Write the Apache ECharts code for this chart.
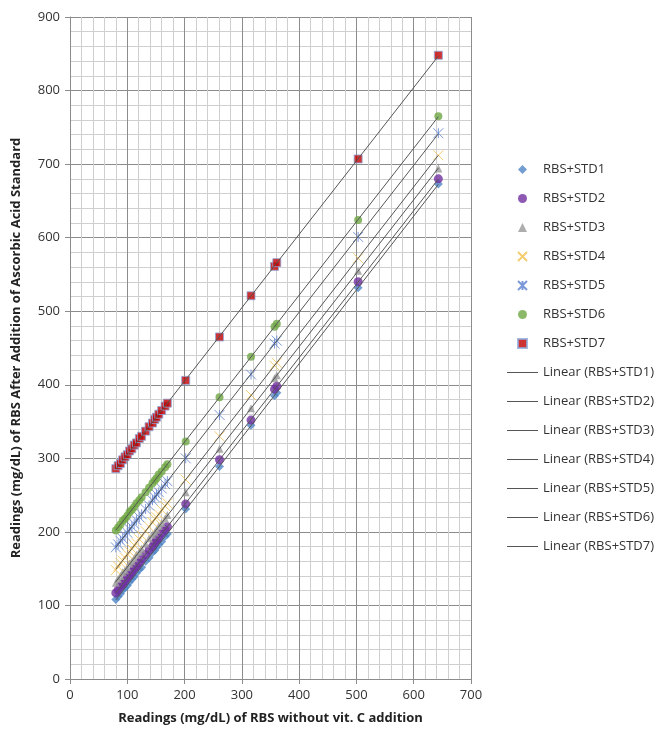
<!DOCTYPE html>
<html lang="en">
<head>
    <meta charset="UTF-8">
    <title>RBS vs RBS + Ascorbic Acid</title>
    <script src="https://cdn.jsdelivr.net/npm/echarts@6/dist/echarts.min.js"></script>
</head>
<style>
    html, body{
        margin: 0;
        padding: 0;
        background-color: #fff;
    }
    #main{
        width: 656px;
        height: 730px;
    }
</style>
<body>
<div id="main"></div>
<script>
    // readings without vit. C (x), same samples for every standard
    var rbs  = [80, 84, 88, 92, 96, 100, 104, 108, 112, 116, 121, 125, 132, 138, 144, 148, 151, 155, 160, 166, 170, 202, 261, 316, 357, 361, 503, 643];
    var std1 = [108, 112, 116, 121, 124, 127, 132, 136, 139, 144, 149, 152, 160, 165, 172, 175, 179, 183, 187, 194, 197, 231, 289, 345, 385, 389, 532, 673];
    var std2 = [117, 121, 126, 129, 133, 138, 141, 145, 150, 153, 158, 163, 169, 175, 180, 185, 189, 192, 198, 203, 207, 238, 298, 352, 394, 398, 540, 680];
    var std3 = [131, 136, 140, 145, 148, 152, 157, 160, 164, 169, 173, 177, 184, 191, 196, 199, 203, 208, 212, 218, 223, 254, 313, 368, 409, 413, 555, 694];
    var std4 = [148, 153, 158, 161, 165, 170, 173, 177, 182, 185, 190, 195, 201, 207, 213, 218, 220, 224, 230, 235, 239, 271, 330, 386, 426, 430, 572, 712];
    var std5 = [179, 183, 188, 191, 195, 199, 204, 207, 211, 216, 220, 224, 231, 236, 243, 247, 251, 254, 259, 265, 269, 300, 359, 414, 456, 460, 601, 742];
    var std6 = [202, 206, 210, 215, 218, 222, 227, 230, 234, 239, 243, 247, 254, 260, 266, 270, 273, 278, 282, 288, 292, 323, 383, 438, 479, 483, 624, 765];
    var std7 = [286, 290, 293, 298, 302, 305, 310, 313, 318, 321, 327, 330, 337, 343, 348, 353, 356, 360, 365, 371, 375, 406, 465, 521, 561, 566, 707, 848];
    var xTicks = [0, 100, 200, 300, 400, 500, 600, 700];
    var yTicks = [0, 100, 200, 300, 400, 500, 600, 700, 800, 900];

    var names = ['RBS+STD1', 'RBS+STD2', 'RBS+STD3', 'RBS+STD4', 'RBS+STD5', 'RBS+STD6', 'RBS+STD7'];
    var values = [std1, std2, std3, std4, std5, std6, std7];

    var markers = [
        {symbol: 'diamond', size: 9, style: {color: '#4f86c6'}},
        {symbol: 'circle', size: 9, style: {color: '#7030a0'}},
        {symbol: 'triangle', size: 8, style: {color: '#989898'}},
        {symbol: 'path://M0,0L10,10M10,0L0,10', size: 10, style: {color: 'rgba(0,0,0,0)', borderColor: '#f2c14e', borderWidth: 1}},
        {symbol: 'path://M0,0L10,10M10,0L0,10M5,0L5,10', size: 10, style: {color: 'rgba(0,0,0,0)', borderColor: '#5b7fd0', borderWidth: 1}},
        {symbol: 'circle', size: 8, style: {color: '#6fa843'}},
        {symbol: 'rect', size: 8, style: {color: '#c00000', borderColor: '#8ea9db', borderWidth: 1}}
    ];

    // least squares fit, like the excel "Linear" trendline
    function linearFit(xs, ys) {
        var n = xs.length, sx = 0, sy = 0, sxx = 0, sxy = 0;
        for (var i = 0; i < n; i++) {
            sx += xs[i]; sy += ys[i];
            sxx += xs[i] * xs[i]; sxy += xs[i] * ys[i];
        }
        var b = (n * sxy - sx * sy) / (n * sxx - sx * sx);
        var a = (sy - b * sx) / n;
        var x0 = Math.min.apply(null, xs), x1 = Math.max.apply(null, xs);
        return [[x0, a + b * x0], [x1, a + b * x1]];
    }

    var series = [];
    var trendNames = [];
    for (var i = 0; i < names.length; i++) {
        var pts = [];
        for (var j = 0; j < rbs.length; j++) {
            pts.push([rbs[j], values[i][j]]);
        }
        series.push({
            name: names[i],
            type: 'scatter',
            symbol: markers[i].symbol,
            symbolSize: markers[i].size,
            itemStyle: markers[i].style,
            data: pts,
            z: 2
        });
    }
    for (var i = 0; i < names.length; i++) {
        trendNames.push('Linear (' + names[i] + ')');
        series.push({
            name: trendNames[i],
            type: 'line',
            symbol: 'none',
            lineStyle: {color: '#555', width: 1},
            itemStyle: {color: '#555'},
            data: linearFit(rbs, values[i]),
            z: 3
        });
    }

    var legendText = {fontSize: 13, color: '#333', fontFamily: 'Open Sans'};

    var app = echarts.init(document.getElementById('main'));
    var option = {
        animation: false,
        grid: {left: 70, right: 185, top: 17, bottom: 51},
        legend: [{
            data: names.map(function (n, k) { return {name: n, icon: markers[k].symbol}; }),
            orient: 'vertical',
            left: 512,
            top: 158,
            itemWidth: 9,
            itemHeight: 9,
            itemGap: 16,
            textStyle: {fontSize: 13, color: '#333', fontFamily: 'Open Sans', padding: [0, 0, 0, 11]}
        }, {
            data: trendNames.map(function (n) { return {name: n, icon: 'rect'}; }),
            orient: 'vertical',
            left: 502,
            top: 361,
            itemWidth: 31,
            itemHeight: 1,
            itemGap: 16,
            textStyle: legendText
        }],
        xAxis: {
            type: 'value',
            min: xTicks[0],
            max: xTicks[xTicks.length - 1],
            interval: 100,
            name: 'Readings (mg/dL) of RBS without vit. C addition',
            nameLocation: 'middle',
            nameGap: 33,
            nameTextStyle: {fontSize: 13, fontWeight: 'bold', color: '#222', fontFamily: 'Open Sans'},
            axisLine: {lineStyle: {color: '#8c8c8c'}},
            axisTick: {show: true, length: 5, lineStyle: {color: '#8c8c8c'}},
            axisLabel: {fontSize: 13, color: '#333', margin: 10, fontFamily: 'Open Sans'},
            splitLine: {lineStyle: {color: '#8c8c8c'}},
            minorTick: {show: false, splitNumber: 5},
            minorSplitLine: {show: true, lineStyle: {color: '#cfcfcf'}}
        },
        yAxis: {
            type: 'value',
            min: yTicks[0],
            max: yTicks[yTicks.length - 1],
            interval: 100,
            name: 'Readings (mg/dL) of RBS After Addition of Ascorbic Acid Standard',
            nameLocation: 'middle',
            nameGap: 47,
            nameTextStyle: {fontSize: 13, fontWeight: 'bold', color: '#222', fontFamily: 'Open Sans'},
            axisLine: {show: true, lineStyle: {color: '#8c8c8c'}},
            axisTick: {show: true, length: 5, lineStyle: {color: '#8c8c8c'}},
            axisLabel: {fontSize: 13, color: '#333', margin: 10, fontFamily: 'Open Sans'},
            splitLine: {lineStyle: {color: '#8c8c8c'}},
            minorTick: {show: false, splitNumber: 5},
            minorSplitLine: {show: true, lineStyle: {color: '#cfcfcf'}}
        },
        series: series
    };
    app.setOption(option);
</script>
</body>
</html>
